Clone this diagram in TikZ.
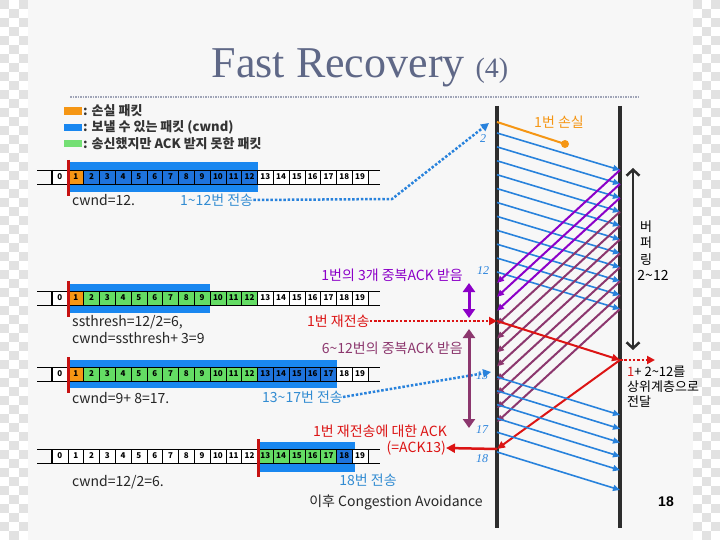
\documentclass[tikz,border=0pt]{standalone}
\usepackage{fontspec}
\setmainfont{Noto Sans CJK KR}
\newfontfamily\titlefont{Liberation Serif}
\newfontfamily\labfont{Liberation Serif}
\newfontfamily\pgfont{Liberation Sans}
\usetikzlibrary{arrows.meta}

\definecolor{slidebg}{RGB}{247,247,247}
\definecolor{chk}{RGB}{226,226,226}
\definecolor{titlecol}{RGB}{95,104,135}
\definecolor{co}{RGB}{245,150,20}
\definecolor{cb}{RGB}{30,115,220}
\definecolor{cg}{RGB}{100,220,100}
\definecolor{cw}{RGB}{255,255,255}
\definecolor{hlblue}{RGB}{25,135,240}
\definecolor{arrblue}{RGB}{40,130,220}
\definecolor{txtblue}{RGB}{50,140,210}
\definecolor{ackpurple}{RGB}{140,0,200}
\definecolor{ackmaroon}{RGB}{140,55,110}
\definecolor{lossred}{RGB}{220,20,20}
\definecolor{tline}{RGB}{45,45,45}

\begin{document}
\begin{tikzpicture}[x=1pt,y=-1pt,
  txt/.style={inner sep=0pt,font=\fontsize{14}{14}\selectfont},
  cell/.style={draw,line width=0.6pt,minimum width=15.8pt,minimum height=14pt,inner sep=0pt,font=\bfseries\fontsize{8}{8}\selectfont},
  redbar/.style={lossred!90!black,line width=3pt},
  data/.style={arrblue,line width=1.6pt,-{Triangle[length=7pt,width=6pt]}},
  dupack/.style={ackpurple,line width=2pt,-{Triangle[length=7pt,width=6pt]}},
  oldack/.style={ackmaroon,line width=2pt,-{Triangle[length=7pt,width=6pt]}},
  dotline/.style={line width=2.5pt,dash pattern=on 2.5pt off 1.8pt,-{Triangle[length=8pt,width=8pt]}},
  seqlab/.style={inner sep=0pt,text=arrblue,font=\labfont\itshape\fontsize{12}{12}\selectfont}]
\useasboundingbox (0,0) rectangle (720,540);

%fundo
\fill[white] (0,0) rectangle (720,540);
\foreach \r in {0,...,59}{
  \pgfmathtruncatemacro{\off}{mod(\r,2)}
  \foreach \c in {0,2}{
    \fill[chk] ({(\c+\off)*9.33},{\r*9}) rectangle ++(9.33,9);
    \fill[chk] ({693+(\c+\off)*9},{\r*9}) rectangle ++(9,9);
  }
}
\fill[slidebg] (28,0) rectangle (693,540);

%titulo
\node[anchor=base,inner sep=0pt,text=titlecol,font=\titlefont\fontsize{44}{44}\selectfont] (title) at (360,78) {Fast Recovery {\fontsize{28}{28}\selectfont(4)}};
\coordinate (t1) at (70,97);
\coordinate (t2) at (640,97);
\draw[titlecol!60,line width=1.5pt,dash pattern=on 1.5pt off 1pt] (t1) -- (t2);

%legenda
\fill[co] (64,107) rectangle (82,115);
\fill[hlblue] (64,124) rectangle (82,131);
\fill[cg!90!white] (64,140) rectangle (82,147);
\node[txt,anchor=west,font=\bfseries\fontsize{13}{13}\selectfont,text=black!80] (leg1) at (83,111) {: 손실 패킷};
\node[txt,anchor=west,font=\bfseries\fontsize{13}{13}\selectfont,text=black!80] (leg2) at (83,127) {: 보낼 수 있는 패킷 (cwnd)};
\node[txt,anchor=west,font=\bfseries\fontsize{13}{13}\selectfont,text=black!80] (leg3) at (83,144) {: 송신했지만 ACK 받지 못한 패킷};

%janelas
\fill[hlblue] (68,162) rectangle (258,192);
\fill[hlblue] (68,284) rectangle (210,313);
\fill[hlblue] (68,360) rectangle (337,388);
\fill[hlblue] (257,442) rectangle (355,472);
\foreach \y in {177,298,374,456}{
  \draw[line width=0.6pt] (37,\y-7) -- (380,\y-7);
  \draw[line width=0.6pt] (37,\y+7) -- (380,\y+7);
}
\foreach \c [count=\i from 0] in {w,o,b,b,b,b,b,b,b,b,b,b,b,w,w,w,w,w,w,w}
  \node[cell,fill=c\c] (a\i) at ({59.9+15.8*\i},177) {\i};
\foreach \c [count=\i from 0] in {w,o,g,g,g,g,g,g,g,g,g,g,g,w,w,w,w,w,w,w}
  \node[cell,fill=c\c] (b\i) at ({59.9+15.8*\i},298) {\i};
\foreach \c [count=\i from 0] in {w,o,g,g,g,g,g,g,g,g,g,g,g,b,b,b,b,b,w,w}
  \node[cell,fill=c\c] (c\i) at ({59.9+15.8*\i},374) {\i};
\foreach \c [count=\i from 0] in {w,w,w,w,w,w,w,w,w,w,w,w,w,g,g,g,g,g,b,w}
  \node[cell,fill=c\c] (d\i) at ({59.9+15.8*\i},456) {\i};
\foreach \y in {177,298,374,456}
  \draw[line width=1.5pt] (52,\y-7) -- (52,\y+7);
\draw[redbar] (68,160) -- (68,196);
\draw[redbar] (68,281) -- (68,317);
\draw[redbar] (68,357) -- (68,393);
\draw[redbar] (258,439) -- (258,477);

%textos da esquerda
\node[txt,anchor=west,text=black!85] (cw1) at (72,200) {cwnd=12.};
\node[txt,anchor=west,text=txtblue] (send1) at (180,200) {1\textasciitilde12번 전송};
\node[txt,anchor=west,text=black!85] (ss) at (72,322) {ssthresh=12/2=6,};
\node[txt,anchor=west,text=black!85] (cw2) at (72,338) {cwnd=ssthresh+ 3=9};
\node[txt,anchor=west,text=black!85] (cw3) at (72,398) {cwnd=9+ 8=17.};
\node[txt,anchor=west,text=txtblue] (send2) at (262,397) {13\textasciitilde17번 전송};
\node[txt,anchor=west,text=black!85] (cw4) at (72,482) {cwnd=12/2=6.};
\node[txt,text=txtblue] (send3) at (368,480) {18번 전송};
\node[txt,text=black!85] (ca) at (396,502) {이후 Congestion Avoidance};
\node[txt,anchor=east,text=ackpurple] (dup3) at (463,275) {1번의 3개 중복ACK 받음};
\node[txt,anchor=west,text=lossred] (resend) at (307,321) {1번 재전송};
\node[txt,anchor=east,text=ackmaroon] (dup8) at (463,348) {6\textasciitilde12번의 중복ACK 받음};
\node[txt,anchor=east,text=lossred] (ackt) at (447,431) {1번 재전송에 대한 ACK};
\node[txt,anchor=east,text=lossred] (ackn) at (446,448) {(=ACK13)};

%linhas do tempo
\coordinate (st) at (497,106);
\coordinate (sb) at (497,528);
\coordinate (rt) at (620,106);
\coordinate (rb) at (620,528);
\draw[tline,line width=3.5pt] (st) -- (sb);
\draw[tline,line width=3.5pt] (rt) -- (rb);

%pacotes 2~12 e ACKs
\foreach \k in {2,...,12}{
  \coordinate (p\k) at (497,{133+13.9*(\k-2)});
  \coordinate (q\k) at (620,{170+13.9*(\k-2)});
  \coordinate (u\k) at (497,{283+13.9*(\k-2)});
  \draw[data] (p\k) -- (q\k);
}
\foreach \k in {5,...,12}
  \draw[oldack] (q\k) -- (u\k);
\foreach \k in {2,3,4}
  \draw[dupack] (q\k) -- (u\k);

%pacote 1 perdido
\coordinate (p1) at (497,122);
\coordinate (x1) at (565,144);
\draw[co,line width=2pt] (p1) -- (x1);
\fill[co] (x1) circle (4pt);
\node[txt,text=co] (lost) at (559,122) {1번 손실};

%retransmissao
\coordinate (rs) at (497,321);
\coordinate (rr) at (620,360);
\coordinate (ra) at (497,449);
\coordinate (up) at (655,360);
\draw[lossred,line width=2pt,-{Triangle[length=8pt,width=7pt]}] (rs) -- (rr);
\draw[lossred,line width=2pt,-{Triangle[length=8pt,width=7pt]}] (rr) -- (ra);
\draw[lossred,line width=2.5pt,-{Triangle[length=9pt,width=9pt]}] (ra) -- (ackn.east);
\draw[lossred,dotline] (rr) -- (up);
\draw[lossred,dotline] (resend.east) -- (rs);

%pacotes 13~18
\foreach \k in {13,...,17}{
  \coordinate (p\k) at (497,{377+13.8*(\k-13)});
  \coordinate (q\k) at (620,{415+13.8*(\k-13)});
  \draw[data] (p\k) -- (q\k);
}
\coordinate (p18) at (497,452);
\coordinate (q18) at (620,490);
\draw[data] (p18) -- (q18);

%setas pontilhadas azuis
\coordinate (bend1) at (392,199);
\coordinate (tip1) at (489,123);
\draw[arrblue,dotline] (send1.east) -- (bend1) -- (tip1);
\coordinate (tip2) at (491,372);
\draw[arrblue,dotline] (send2.east) -- (tip2);

%numeros de sequencia
\node[seqlab] (n2) at (483,139) {2};
\node[seqlab] (n12) at (483,271) {12};
\node[seqlab] (n13) at (482,376) {13};
\node[seqlab] (n17) at (482,430) {17};
\node[seqlab] (n18) at (482,459) {18};

%setas duplas
\coordinate (pa) at (469,283);
\coordinate (pb) at (469,318);
\draw[ackpurple,line width=3pt,{Triangle[length=9pt,width=12pt]}-{Triangle[length=9pt,width=12pt]}] (pa) -- (pb);
\coordinate (ma) at (469,329);
\coordinate (mb) at (469,428);
\draw[ackmaroon,line width=3pt,{Triangle[length=9pt,width=12pt]}-{Triangle[length=9pt,width=12pt]}] (ma) -- (mb);
\coordinate (ba) at (633,168);
\coordinate (bb) at (633,350);
\draw[tline,line width=2.5pt,{Straight Barb[length=6pt,width=13pt]}-{Straight Barb[length=6pt,width=13pt]}] (ba) -- (bb);

%buffer e entrega
\node[txt,align=center,font=\fontsize{13}{16.5}\selectfont] (buf) at (646,243) {버\\퍼\\링};
\node[txt] (buf2) at (653,275) {2\textasciitilde12};
\node[txt,anchor=north west,align=left,font=\fontsize{13}{15}\selectfont] (dlv) at (627,366) {{\color{lossred}1}+ 2\textasciitilde12를\\상위계층으로\\전달};

%pagina
\node[inner sep=0pt,font=\pgfont\bfseries\fontsize{14}{14}\selectfont] (pg) at (666,502) {18};
\end{tikzpicture}
\end{document}
